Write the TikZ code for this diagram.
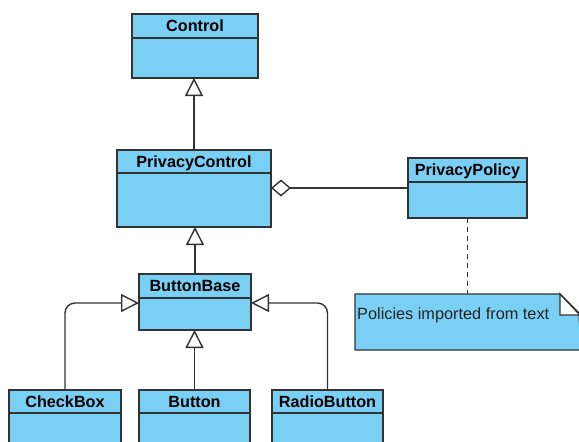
\documentclass[tikz,border=0pt]{standalone}
\usepackage{fontspec}
\setmainfont{Liberation Sans}
\usetikzlibrary{arrows.meta,fit,calc}
\definecolor{clsfill}{RGB}{122,207,245}
\definecolor{clsline}{RGB}{51,51,51}
\tikzset{
  bodybox/.style={draw=clsline, fill=clsfill, line width=1.4pt, inner sep=0pt, outer sep=0pt},
  hdrbox/.style={draw=clsline, fill=clsfill, line width=1.4pt, inner sep=0pt, outer sep=0pt,
    font=\fontsize{16.2}{18}\selectfont\bfseries, text height=11.6pt, text depth=0pt},
  gen/.style={draw=clsline, line width=1.4pt, -{Triangle[length=18pt,width=18pt,fill=white]}},
  agg/.style={draw=clsline, line width=1.4pt, {Diamond[length=20pt,width=17pt,fill=white]}-},
  notedash/.style={draw=clsline, line width=1.4pt, dash pattern=on 5pt off 4pt},
  notetext/.style={font=\fontsize{16.3}{18}\selectfont, text=black!85, inner sep=0pt, text height=11.6pt, text depth=0pt}
}
\newcommand\umlclass[7]{%
  \node[bodybox, minimum width={(#4-#2)*1pt}, minimum height={(#6-#5)*1pt}] (#1) at ({(#2+#4)/2},{(#5+#6)/2}) {};
  \node[hdrbox, minimum width={(#4-#2)*1pt}, minimum height={(#5-#3)*1pt}] (#1H) at ({(#2+#4)/2},{(#3+#5)/2}) {#7};
}
\begin{document}
\begin{tikzpicture}[x=1pt,y=-1pt]
\useasboundingbox (0,0) rectangle (579,442);
\umlclass{control}{132}{14}{258}{38}{78}{Control}
\umlclass{pc}{117}{150}{271}{173}{227}{PrivacyControl}
\umlclass{pp}{408}{158}{527}{182}{218}{PrivacyPolicy}
\umlclass{bb}{139}{274}{251}{298}{330}{ButtonBase}
\umlclass{cb}{9}{390}{121}{413}{470}{CheckBox}
\umlclass{btn}{139}{390}{250}{413}{470}{Button}
\umlclass{rb}{272}{390}{383}{413}{470}{RadioButton}
% note
\node[fit={(355,294) (581,350)}, inner sep=0pt, outer sep=0pt] (note) {};
\path[draw=clsline, fill=clsfill, line width=1.4pt]
  (note.north west) -- ($(note.north east)+(-21,0)$) -- ($(note.north east)+(-2,19)$)
  -- (note.south east) -- (note.south west) -- cycle;
\path[draw=clsline, fill=white, line width=1.4pt, line join=miter]
  ($(note.north east)+(-21,0)$) -- ($(note.north east)+(-21,21)$) -- ($(note.north east)+(-1,21)$) -- cycle;
\node[notetext, anchor=west] (notetxt) at ($(note.north west)+(2,19.5)$) {Policies imported from text};
% connectors
\draw[gen] (pcH.north) -- (pcH.north |- control.south);
\draw[gen] (bbH.north) -- (bbH.north |- pc.south);
\draw[gen] (btnH.north) -- (btnH.north |- bb.south);
\coordinate (bbL) at ($(bb.north west)+(0,5)$);
\coordinate (bbR) at ($(bb.north east)+(0,5)$);
\draw[gen, rounded corners=10pt] (cbH.north) |- (bbL);
\draw[gen, rounded corners=10pt] (rbH.north) |- (bbR);
\coordinate (aggY) at ($(ppH.south)+(0,6)$);
\draw[agg] (pc.east |- aggY) -- (pp.west |- aggY);
\draw[notedash] (pp.south) -- (pp.south |- note.north);
\end{tikzpicture}
\end{document}
